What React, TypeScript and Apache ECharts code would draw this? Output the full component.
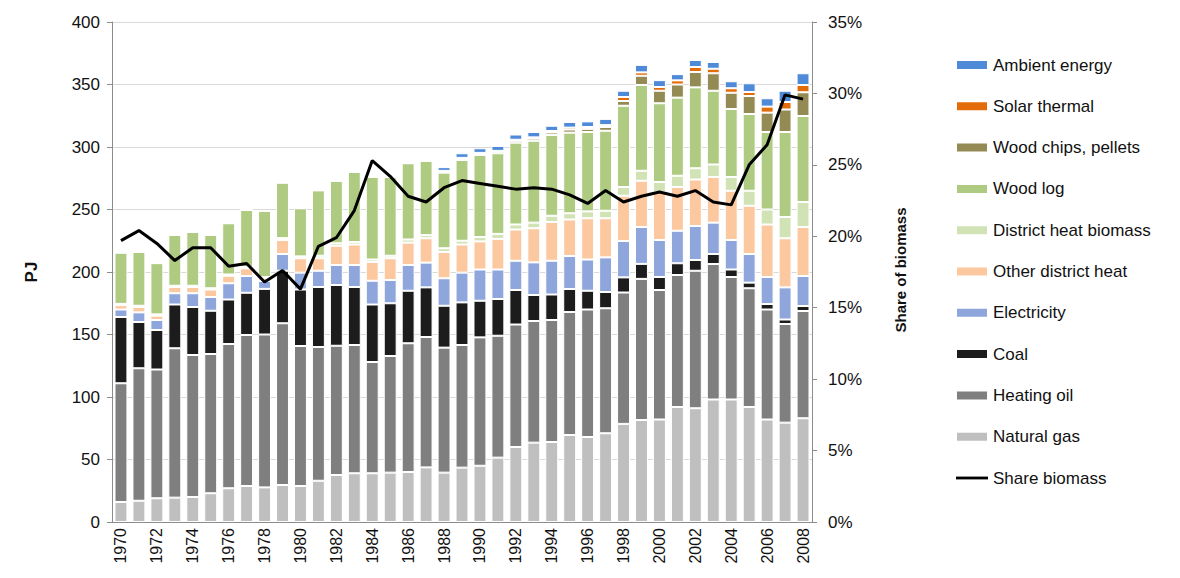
import { useEffect, useRef } from "react";
import * as echarts from "echarts";

const years = [
  "1970", "1971", "1972", "1973", "1974", "1975", "1976", "1977", "1978", "1979",
  "1980", "1981", "1982", "1983", "1984", "1985", "1986", "1987", "1988", "1989",
  "1990", "1991", "1992", "1993", "1994", "1995", "1996", "1997", "1998", "1999",
  "2000", "2001", "2002", "2003", "2004", "2005", "2006", "2007", "2008",
];

const naturalGas = [
  16, 17, 19, 19.5, 20, 23, 27, 28.8, 27.7, 29.6,
  28.8, 33, 37.6, 39, 39, 39.5, 40, 43.7, 39.5, 43.5,
  45, 51.5, 60, 63.5, 64, 69.6, 68, 71, 78.5, 81.6,
  82, 92, 91, 98, 98, 92, 82, 79.5, 83,
];
const heatingOil = [
  95, 106, 103, 119.5, 113.6, 111.4, 115.4, 120.8, 122.3, 129.4,
  112, 107, 103.4, 102.6, 89, 93.3, 103, 104.3, 100, 98.1,
  102.7, 97.5, 98, 97.3, 97.6, 98.4, 102, 100, 105.1, 112.9,
  103.6, 105.6, 110, 108.4, 98, 95, 88, 78.9, 85.8,
];
const coal = [
  53, 37, 31.6, 35, 38.4, 34.6, 35.6, 33.8, 36.5, 42,
  45.2, 48, 48.6, 46.4, 46, 42.2, 42, 39.7, 33.5, 34.1,
  29.3, 29.4, 27.6, 20.8, 20.4, 18.4, 15, 13, 12.1, 12,
  10.4, 9.4, 8.6, 8, 6, 4.5, 4.4, 3.6, 4,
];
const electricity = [
  6, 7.7, 8, 9, 11, 11, 13, 13.4, 6.3, 13.4,
  13.5, 13, 16, 17.6, 19, 18.6, 20.6, 19.8, 22, 23.8,
  25, 23.6, 23.4, 26.1, 27, 26.4, 25, 27.7, 29.1, 29.5,
  29.6, 26, 27.2, 25.1, 23.6, 22.9, 21.6, 25.7, 24,
];
const otherDistrictHeat = [
  3.5, 4.3, 3.5, 5, 5, 6, 6, 6.2, 2.2, 11.2,
  11.5, 10, 15.4, 16.4, 15, 17.4, 17.9, 19.5, 21, 22.5,
  22.5, 24.5, 25, 27.3, 31, 29.2, 33, 31.3, 36.2, 37,
  38.4, 35, 37.2, 36.5, 39.4, 38.6, 42, 39.3, 39.2,
];
const districtHeatBiomass = [
  1, 1, 1, 1, 1, 1, 1, 1, 1, 1.5,
  1.5, 2, 2, 2, 2, 2, 2.5, 2.5, 3, 3,
  3.5, 4, 4, 4.5, 5, 5, 5.5, 6, 7, 8,
  8, 9, 9, 10, 11, 12, 12, 17, 20,
];
const woodLog = [
  41, 43, 41, 40.6, 43, 42.6, 41, 45.6, 52.8, 44.4,
  38.5, 52.3, 50, 56, 66, 63, 61, 59.5, 60.5, 64.6,
  65.6, 64.5, 65.5, 65.5, 64.6, 64.5, 63.5, 64, 65, 68.6,
  63, 62.5, 64.7, 59, 54.4, 61.4, 62, 68, 68.8,
];
const woodChips = [
  0, 0, 0, 0, 0, 0, 0, 0, 0, 0,
  0, 0, 0, 0, 0, 0, 0, 0, 1, 1.2,
  1.2, 1.3, 1.5, 1.7, 2, 2.5, 2.5, 3, 3.8, 7.4,
  10, 10.5, 12.3, 14, 13, 14.4, 15.5, 18, 19,
];
const solarThermal = [
  0, 0, 0, 0, 0, 0, 0, 0, 0, 0,
  0, 0, 0, 0, 0, 0, 0, 0, 0.4, 0.5,
  0.5, 0.6, 0.8, 1, 1.2, 1.5, 1.5, 1.5, 3.2, 2.7,
  3, 3.3, 4, 3.6, 3.6, 3.2, 4.8, 6, 5.8,
];
const ambientEnergy = [
  0, 0, 0, 0, 0, 0, 0, 0, 0, 0,
  0, 0, 0, 0, 0, 0, 0, 0, 3, 3.7,
  3.7, 3.9, 4.2, 4.3, 4.2, 4.5, 4.5, 5, 5, 6,
  5.5, 5, 5.6, 5.4, 5.6, 7, 6.7, 9, 9.4,
];
const shareBiomass = [
  19.7, 20.4, 19.5, 18.3, 19.2, 19.2, 17.9, 18.1, 16.8, 17.6,
  16.3, 19.3, 19.9, 21.8, 25.3, 24.2, 22.8, 22.4, 23.4, 23.9,
  23.7, 23.5, 23.3, 23.4, 23.3, 22.9, 22.3, 23.2, 22.4, 22.8,
  23.1, 22.8, 23.2, 22.4, 22.2, 25.0, 26.4, 29.9, 29.6,
];

const leftTicks = [0, 400, 50];
const rightTicks = [0, 35, 5];

const FONT = "'Liberation Sans', Arial, sans-serif";

const barSeries: [string, number[], string][] = [
  ["Natural gas", naturalGas, "#bfbfbf"],
  ["Heating oil", heatingOil, "#7f7f7f"],
  ["Coal", coal, "#1c1c1c"],
  ["Electricity", electricity, "#8ea6dc"],
  ["Other district heat", otherDistrictHeat, "#fbc8a0"],
  ["District heat biomass", districtHeatBiomass, "#d1e2b4"],
  ["Wood log", woodLog, "#afcb82"],
  ["Wood chips, pellets", woodChips, "#948a54"],
  ["Solar thermal", solarThermal, "#e36c09"],
  ["Ambient energy", ambientEnergy, "#4f8ad8"],
];

export default function App() {
  const ref = useRef<HTMLDivElement>(null);
  useEffect(() => {
    document.body.style.margin = "0";
    const chart = echarts.init(ref.current!, null, { renderer: "svg" });
    const series: any[] = barSeries.map(([name, data, color]) => ({
      name,
      type: "bar",
      stack: "total",
      data,
      barWidth: "72%",
      itemStyle: { color, borderColor: "#ffffff", borderWidth: 1 },
      emphasis: { disabled: true },
    }));
    series.push({
      name: "Share biomass",
      type: "line",
      yAxisIndex: 1,
      data: shareBiomass,
      symbol: "none",
      lineStyle: { color: "#000000", width: 3 },
      itemStyle: { color: "#000000" },
      z: 10,
    });
    const legendOrder = [
      "Ambient energy",
      "Solar thermal",
      "Wood chips, pellets",
      "Wood log",
      "District heat biomass",
      "Other district heat",
      "Electricity",
      "Coal",
      "Heating oil",
      "Natural gas",
    ];
    chart.setOption({
      animation: false,
      backgroundColor: "#ffffff",
      textStyle: { fontFamily: FONT },
      grid: { left: 112, right: 368, top: 22, bottom: 56, containLabel: false },
      legend: {
        orient: "vertical",
        left: 955,
        top: 56,
        padding: 0,
        itemWidth: 32,
        itemHeight: 10,
        itemGap: 23.3,
        selectedMode: false,
        textStyle: { fontSize: 17, color: "#111", fontFamily: FONT, lineHeight: 18 },
        data: [
          ...legendOrder.map((n) => ({ name: n, icon: "rect" })),
          { name: "Share biomass", icon: "path://M0,0H34V3H0Z" },
        ],
      },
      xAxis: {
        type: "category",
        data: years,
        axisLine: { lineStyle: { color: "#8c8c8c" } },
        axisTick: { show: false },
        axisLabel: {
          rotate: 90,
          interval: 1,
          fontSize: 16,
          color: "#111",
          margin: 6,
          fontFamily: FONT,
        },
      },
      yAxis: [
        {
          type: "value",
          min: leftTicks[0],
          max: leftTicks[1],
          interval: leftTicks[2],
          axisLine: { show: true, lineStyle: { color: "#8c8c8c" } },
          axisTick: { show: true, length: 5, lineStyle: { color: "#8c8c8c" } },
          axisLabel: { fontSize: 17, color: "#111", margin: 12, fontFamily: FONT },
          splitLine: { lineStyle: { color: "#d9d9d9" } },
        },
        {
          type: "value",
          position: "right",
          min: rightTicks[0],
          max: rightTicks[1],
          interval: rightTicks[2],
          axisLine: { show: true, lineStyle: { color: "#8c8c8c" } },
          axisTick: { show: true, length: 5, lineStyle: { color: "#8c8c8c" } },
          axisLabel: {
            fontSize: 17,
            color: "#111",
            margin: 16,
            formatter: "{value}%",
            fontFamily: FONT,
          },
          splitLine: { show: false },
        },
      ],
      graphic: [
        {
          type: "text",
          x: 31,
          y: 272,
          rotation: Math.PI / 2,
          style: {
            text: "PJ",
            font: `bold 17px ${FONT}`,
            fill: "#111",
            textAlign: "center",
            textVerticalAlign: "middle",
          },
        },
        {
          type: "text",
          x: 900,
          y: 270,
          rotation: Math.PI / 2,
          style: {
            text: "Share of biomass",
            font: `bold 15px ${FONT}`,
            fill: "#111",
            textAlign: "center",
            textVerticalAlign: "middle",
          },
        },
      ],
      series,
    });
    return () => chart.dispose();
  }, []);
  return (
    <div
      ref={ref}
      style={{ position: "absolute", left: 0, top: 0, width: 1180, height: 578 }}
    />
  );
}
